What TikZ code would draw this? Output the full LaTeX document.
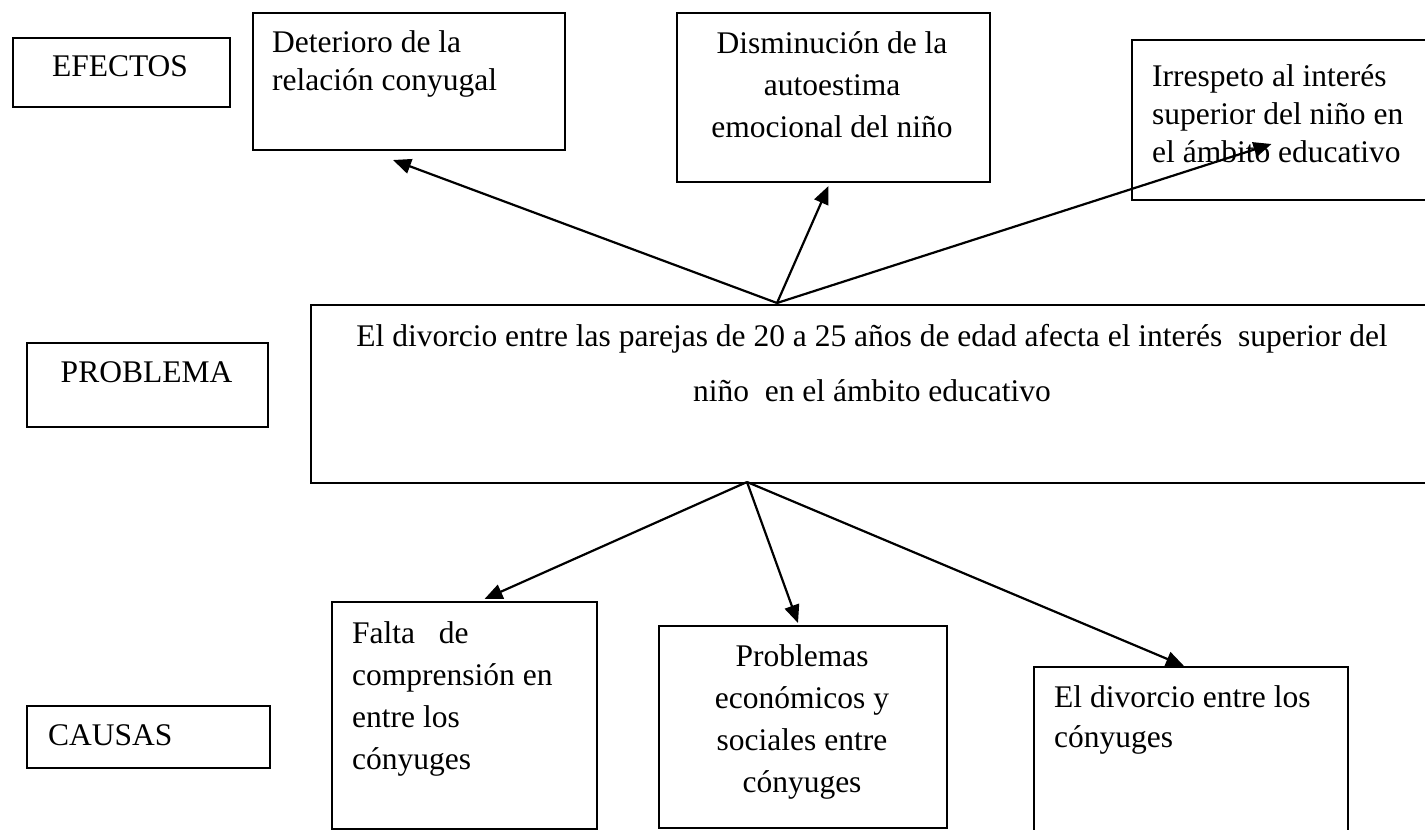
\documentclass[tikz,border=0pt]{standalone}
\usepackage{fontspec}
\setmainfont{Liberation Serif}
\usetikzlibrary{arrows.meta}

\tikzset{
    box/.style={draw, line width=2pt, inner sep=0pt, anchor=north west},
    lbl/.style={inner sep=0pt, font=\fontsize{31.5}{38}\selectfont},
    arr/.style={line width=2.2pt, -{Triangle[length=18pt, width=15pt]}}
}

\begin{document}
\begin{tikzpicture}[x=1pt, y=-1pt]
    \useasboundingbox (0,0) rectangle (1425,830);

    \node[box, minimum width=217pt, minimum height=69pt] (efe) at (12,37) {};
    \node[box, minimum width=241pt, minimum height=84pt] (pla) at (26,342) {};
    \node[box, minimum width=243pt, minimum height=62pt] (cau) at (26,705) {};

    \node[box, minimum width=312pt, minimum height=137pt] (det) at (252,12) {};
    \node[box, minimum width=313pt, minimum height=169pt] (dis) at (676,12) {};
    \node[box, minimum width=297pt, minimum height=160pt] (irr) at (1131,39) {};

    \node[box, minimum width=1118pt, minimum height=178pt] (prb) at (310,304) {};

    \node[box, minimum width=265pt, minimum height=227pt] (fal) at (331,601) {};
    \node[box, minimum width=288pt, minimum height=202pt] (pro) at (658,625) {};
    \node[box, minimum width=314pt, minimum height=175pt] (div) at (1033,666) {};

    \node[lbl, anchor=base] (efe-t) at (120,76) {EFECTOS};
    \node[lbl, anchor=base] (pla-t) at (146.5,382) {PROBLEMA};
    \node[lbl, anchor=base west] (cau-t) at (48,745) {CAUSAS};

    \node[lbl, anchor=base west, align=left] (det-t) at (272,90)
        {Deterioro de la\\relación conyugal};
    \node[lbl, anchor=base, align=center, font=\fontsize{31.5}{42}\selectfont] (dis-t) at (832,137)
        {Disminución de la\\autoestima\\emocional del niño};
    \node[lbl, anchor=base west, align=left] (irr-t) at (1152,162)
        {Irrespeto al interés\\superior del niño en\\el ámbito educativo};

    \node[lbl, anchor=base, align=center, font=\fontsize{31.5}{55}\selectfont] (prb-t) at (872,401)
        {El divorcio entre las parejas de 20 a 25 años de edad afecta el interés~ superior del\\niño~ en el ámbito educativo};

    \node[lbl, anchor=base west, align=left, font=\fontsize{31.5}{42}\selectfont] (fal-t) at (352,769)
        {Falta~~~de\\comprensión en\\entre los\\cónyuges};
    \node[lbl, anchor=base, align=center, font=\fontsize{31.5}{42}\selectfont] (pro-t) at (802,792)
        {Problemas\\económicos y\\sociales entre\\cónyuges};
    \node[lbl, anchor=base west, align=left, font=\fontsize{31.5}{40}\selectfont] (div-t) at (1054,747)
        {El divorcio entre los\\cónyuges};

    \coordinate (up) at (777,303);
    \coordinate (down) at (747,482);

    \foreach \n/\dx/\dy in {det/-16/9, dis/-5/3}
        \draw[arr] (up) -- ([shift={(\dx,\dy)}]\n.south);
    \draw[arr] (up) -- ([shift={(-9,24)}]irr.center);
    \foreach \n/\dx/\dy in {fal/20/-2, pro/-5/-2, div/-7/0}
        \draw[arr] (down) -- ([shift={(\dx,\dy)}]\n.north);
\end{tikzpicture}
\end{document}
